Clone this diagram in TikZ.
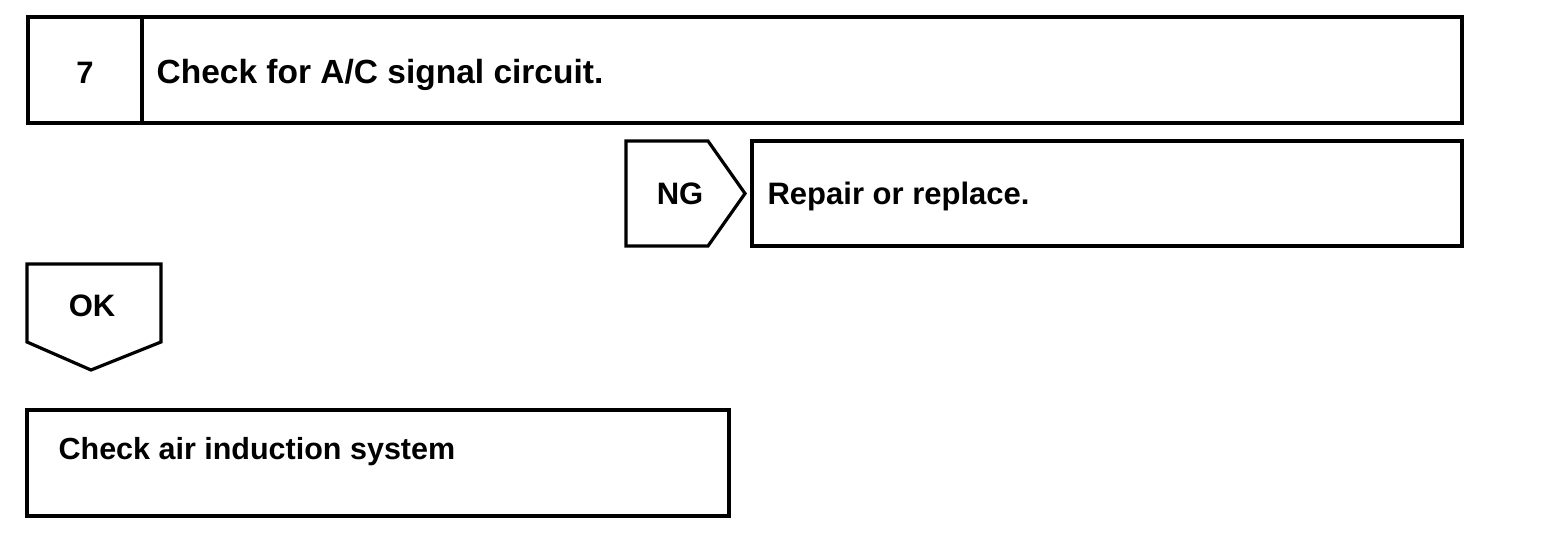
\documentclass[tikz,border=0pt]{standalone}
\usepackage{fontspec}
\setmainfont{Liberation Sans}
\usetikzlibrary{positioning}

\begin{document}
\begin{tikzpicture}[x=1pt,y=-1pt,line width=3.2pt,line join=miter,
    txt/.style={font=\fontsize{31}{36}\selectfont\bfseries,inner sep=0pt}]
  \useasboundingbox (0,0) rectangle (1568,538);
  % step box
  \draw (28,17) rectangle (1462,123);
  \draw (142,17) -- (142,123);
  \node[txt,anchor=base] (num) at (85,83) {7};
  \node[txt,anchor=base west,font=\fontsize{33.5}{38}\selectfont\bfseries] (title) at (155,83) {Check for A/C signal circuit.};
  % NG branch
  \draw (626,141) -- (708,141) -- (745,193.5) -- (708,246) -- (626,246) -- cycle;
  \node[txt,anchor=base] (ng) at (680,204) {NG};
  \draw (752,141) rectangle (1462,246);
  \node[txt,anchor=base west] (repair) at (766,204) {Repair or replace.};
  % OK branch
  \draw (27,264) -- (161,264) -- (161,342) -- (91,370) -- (27,342) -- cycle;
  \node[txt,anchor=base] (ok) at (92,316) {OK};
  \draw (27,410) rectangle (729,516);
  \node[txt,anchor=base west,font=\fontsize{30.5}{36}\selectfont\bfseries] (next) at (57,459) {Check air induction system};
\end{tikzpicture}
\end{document}
